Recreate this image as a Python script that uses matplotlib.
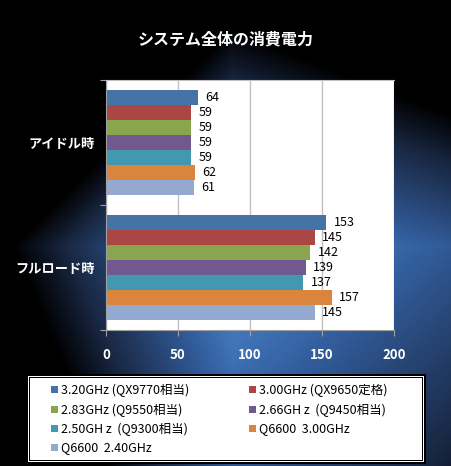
import numpy as np
import matplotlib
matplotlib.use("Agg")
import matplotlib.pyplot as plt
from matplotlib.patches import Rectangle

plt.rcParams['font.family'] = ['Noto Sans CJK JP', 'DejaVu Sans']

# データ
categories = ['アイドル時', 'フルロード時']
series_names = ['3.20GHz (QX9770相当)', '3.00GHz (QX9650定格)',
                '2.83GHz (Q9550相当)', '2.66GH z  (Q9450相当)',
                '2.50GH z  (Q9300相当)', 'Q6600  3.00GHz',
                'Q6600  2.40GHz']
idle = [64, 59, 59, 59, 59, 62, 61]
full = [153, 145, 142, 139, 137, 157, 145]
colors = ['#4572a7', '#aa4643', '#89a54e', '#71588f',
          '#4198af', '#db843d', '#93a9cf']
xticks = [0, 50, 100, 150, 200]

W, H = 452, 466
fig = plt.figure(figsize=(W / 100, H / 100), dpi=100)

# 背景グラデーション (ひし形)
yy, xx = np.mgrid[0:H, 0:W]
dx = xx - 232.0
dy = yy - 245.0
sx = np.where(dx < 0, 220.0, 560.0)
sy = np.where(dy < 0, 215.0, 520.0)
d = np.clip(np.abs(dx) / sx + np.abs(dy) / sy, 0, 1)
stops = [0, 0.35, 0.75, 1.0]
cols = np.array([[0.32, 0.56, 0.85], [0.20, 0.37, 0.62],
                 [0.10, 0.16, 0.27], [0.0, 0.0, 0.0]])
img = np.stack([np.interp(d, stops, cols[:, k]) for k in range(3)], axis=-1)
bg = fig.add_axes([0, 0, 1, 1])
bg.imshow(img, extent=[0, W, H, 0], aspect='auto')
bg.set_xlim(0, W)
bg.set_ylim(H, 0)
bg.axis('off')

fig.text(226 / W, 1 - 40 / H, 'システム全体の消費電力', color='white',
         fontsize=11.5, fontweight='bold', ha='center', va='center')

# 棒グラフ
ax = fig.add_axes([106 / W, 1 - 330 / H, 288 / W, 250 / H])
ax.set_facecolor('white')
bh = 0.12
for i, (a, b) in enumerate(zip(idle, full)):
    off = 0.42 - bh * (i + 0.5)
    ax.barh([1 + off, 0 + off], [a, b], height=bh, color=colors[i])
    ax.text(a + 5, 1 + off, str(a), va='center', ha='left', fontsize=9)
    ax.text(b + 5, 0 + off, str(b), va='center', ha='left', fontsize=9)

ax.set_xlim(0, 200)
ax.set_ylim(-0.5, 1.5)
ax.set_xticks(xticks)
ax.set_xticklabels([str(v) for v in xticks], color='white',
                   fontweight='bold', fontsize=9.5)
ax.set_yticks([-0.5, 0.5, 1.5], minor=False)
ax.set_yticklabels([])
ax.set_yticks([0, 1], minor=True)
ax.set_yticklabels(['フルロード時', 'アイドル時'], minor=True, color='white',
                   fontweight='bold', fontsize=9.5)
ax.tick_params(axis='y', which='minor', length=0, pad=8)
ax.tick_params(axis='y', which='major', length=4, color='#a0a0a0')
ax.tick_params(axis='x', length=4, color='#a0a0a0', pad=9)
ax.grid(axis='x', color='#c0c0c0', linewidth=1)
ax.set_axisbelow(True)
for s in ax.spines.values():
    s.set_color('#a0a0a0')
ax.spines['right'].set_visible(False)
ax.spines['top'].set_color('#c0c0c0')

# 凡例
bg.add_patch(Rectangle((26, 374), 400, 90, facecolor='black', edgecolor='none'))
bg.add_patch(Rectangle((28, 376), 396, 86, facecolor='white', edgecolor='none'))
bg.add_patch(Rectangle((29, 377), 394, 84, facecolor='black', edgecolor='none'))
bg.add_patch(Rectangle((30, 378), 392, 82, facecolor='white', edgecolor='none'))
rows = [390, 410, 429, 448]
lcols = [55, 253]
for i, name in enumerate(series_names):
    x = lcols[i % 2]
    y = rows[i // 2]
    bg.add_patch(Rectangle((x - 4, y - 4), 7, 7, facecolor=colors[i],
                           edgecolor='none'))
    bg.text(x + 6, y, name, fontsize=9, va='center', ha='left')

fig.savefig('out.png', dpi=100)
